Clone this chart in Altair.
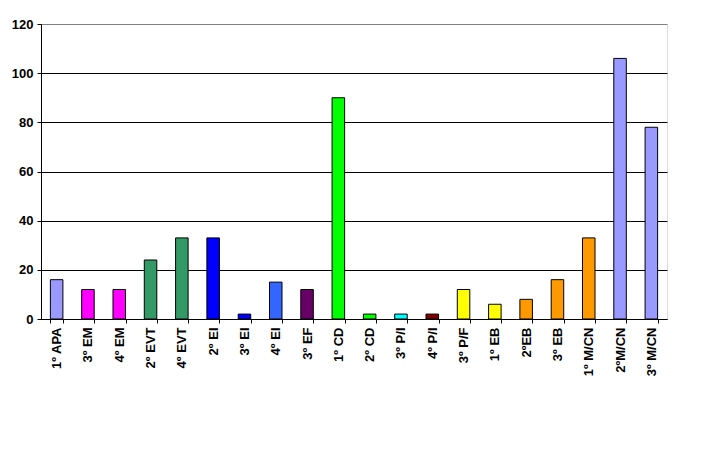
import altair as alt
import pandas as pd

categories = ["1º APA", "3º EM", "4º EM", "2º EVT", "4º EVT", "2º EI", "3º EI", "4º EI",
              "3º EF", "1º CD", "2º CD", "3º P/I", "4º P/I", "3º P/F", "1º EB", "2ºEB",
              "3º EB", "1º M/CN", "2ºM/CN", "3º M/CN"]
values = [16, 12, 12, 24, 33, 33, 2, 15, 12, 90, 2, 2, 2, 12, 6, 8, 16, 33, 106, 78]
colors = ["#9999FF", "#FF00FF", "#FF00FF", "#339966", "#339966", "#0000FF", "#0000FF", "#3366FF",
          "#660066", "#00FF00", "#00FF00", "#00FFFF", "#800000", "#FFFF00", "#FFFF00", "#FF9900",
          "#FF9900", "#FF9900", "#9999FF", "#9999FF"]
y_ticks = [0, 20, 40, 60, 80, 100, 120]

df = pd.DataFrame({"cat": categories, "val": values})

FONT = "Liberation Sans"

chart = alt.Chart(df).mark_bar(stroke="black", strokeWidth=1).encode(
    x=alt.X("cat:N", sort=categories,
            scale=alt.Scale(paddingInner=0.6, paddingOuter=0.3),
            axis=alt.Axis(title=None, labelAngle=-90, labelFont=FONT, labelFontSize=13,
                          labelFontWeight="bold", labelColor="black", labelPadding=4,
                          tickBand="extent", tickSize=4, tickColor="black",
                          domainColor="black", labelBaseline="middle", labelAlign="right")),
    y=alt.Y("val:Q", scale=alt.Scale(domain=[0, 120], nice=False),
            axis=alt.Axis(title=None, values=y_ticks, labelFont=FONT, labelFontSize=13,
                          labelFontWeight="bold", labelColor="black", labelPadding=4,
                          tickSize=4, tickColor="black", domainColor="black",
                          grid=True,
                          gridColor=alt.condition(alt.datum.value == 120,
                                                  alt.value("#808080"), alt.value("black")),
                          gridOpacity=1, gridWidth=1)),
    color=alt.Color("cat:N", scale=alt.Scale(domain=categories, range=colors), legend=None),
).properties(
    width=626, height=295,
    autosize=alt.AutoSizeParams(type="none"),
    padding={"left": 33, "top": 16, "right": 30, "bottom": 120},
).configure_view(
    fill="#C0C0C0", stroke="#808080", strokeWidth=1
).configure(background="white")

chart.save("out.html", embed_options={"renderer": "svg", "actions": False})
